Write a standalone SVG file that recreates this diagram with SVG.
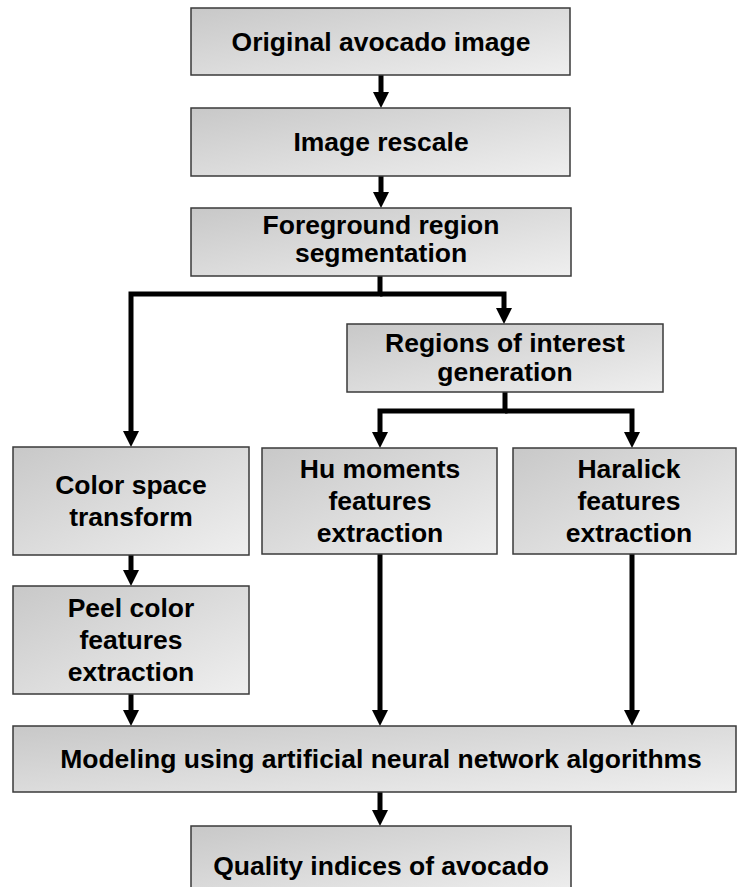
<svg xmlns="http://www.w3.org/2000/svg" width="737" height="887" viewBox="0 0 737 887">
  <defs>
    <linearGradient id="boxFill" x1="0" y1="0" x2="1" y2="1">
      <stop offset="0" stop-color="#c8c8c8"/>
      <stop offset="1" stop-color="#efefef"/>
    </linearGradient>
    <marker id="arrow" markerUnits="userSpaceOnUse" markerWidth="16" markerHeight="16" refX="0" refY="8" orient="auto">
      <path d="M0,0 L16,8 L0,16 Z" fill="#000"/>
    </marker>
    <style>
      .box { fill: url(#boxFill); stroke: #3a3a3a; stroke-width: 1.5; }
      .lbl { font-family: "Liberation Sans", Arial, sans-serif; font-weight: bold; font-size: 25px; fill: #000; text-anchor: middle; }
      .wire { fill: none; stroke: #000; stroke-width: 5; stroke-linejoin: miter; }
      .wire.a { marker-end: url(#arrow); }
    </style>
  </defs>
  <rect width="737" height="887" fill="#fff"/>

  <g id="connectors">
    <path class="wire a" d="M381,75 V92"/>
    <path class="wire a" d="M381,176 V192"/>
    <path class="wire a" d="M380,276 V294 H131 V431"/>
    <path class="wire a" d="M380,294 H504 V308"/>
    <path class="wire a" d="M505,392 V411 H380 V432"/>
    <path class="wire a" d="M505,411 H632 V432"/>
    <path class="wire a" d="M131,555 V570"/>
    <path class="wire a" d="M131,694 V710"/>
    <path class="wire a" d="M380,554 V710"/>
    <path class="wire a" d="M632,554 V710"/>
    <path class="wire a" d="M380,792 V810"/>
  </g>

  <g id="original-image">
    <rect class="box" x="191" y="8" width="379" height="67"/>
    <text class="lbl" transform="translate(381,0) scale(1.06,1)" x="0" y="51">Original avocado image</text>
  </g>

  <g id="image-rescale">
    <rect class="box" x="191" y="108" width="379" height="68"/>
    <text class="lbl" transform="translate(381,0) scale(1.06,1)" x="0" y="151">Image rescale</text>
  </g>

  <g id="foreground-segmentation">
    <rect class="box" x="191" y="208" width="380" height="68"/>
    <text class="lbl" transform="translate(381,0) scale(1.06,1)" x="0" y="234">Foreground region</text>
    <text class="lbl" transform="translate(381,0) scale(1.06,1)" x="0" y="262">segmentation</text>
  </g>

  <g id="roi-generation">
    <rect class="box" x="347" y="324" width="316" height="68"/>
    <text class="lbl" transform="translate(505,0) scale(1.06,1)" x="0" y="352">Regions of interest</text>
    <text class="lbl" transform="translate(505,0) scale(1.06,1)" x="0" y="381">generation</text>
  </g>

  <g id="color-space">
    <rect class="box" x="13" y="447" width="236" height="108"/>
    <text class="lbl" transform="translate(131,0) scale(1.06,1)" x="0" y="494">Color space</text>
    <text class="lbl" transform="translate(131,0) scale(1.06,1)" x="0" y="526">transform</text>
  </g>

  <g id="hu-moments">
    <rect class="box" x="262" y="448" width="235" height="106"/>
    <text class="lbl" transform="translate(380,0) scale(1.06,1)" x="0" y="478">Hu moments</text>
    <text class="lbl" transform="translate(380,0) scale(1.06,1)" x="0" y="510">features</text>
    <text class="lbl" transform="translate(380,0) scale(1.06,1)" x="0" y="542">extraction</text>
  </g>

  <g id="haralick">
    <rect class="box" x="513" y="448" width="223" height="106"/>
    <text class="lbl" transform="translate(629,0) scale(1.06,1)" x="0" y="478">Haralick</text>
    <text class="lbl" transform="translate(629,0) scale(1.06,1)" x="0" y="510">features</text>
    <text class="lbl" transform="translate(629,0) scale(1.06,1)" x="0" y="542">extraction</text>
  </g>

  <g id="peel-color">
    <rect class="box" x="13" y="586" width="236" height="108"/>
    <text class="lbl" transform="translate(131,0) scale(1.06,1)" x="0" y="617">Peel color</text>
    <text class="lbl" transform="translate(131,0) scale(1.06,1)" x="0" y="649">features</text>
    <text class="lbl" transform="translate(131,0) scale(1.06,1)" x="0" y="681">extraction</text>
  </g>

  <g id="ann-modeling">
    <rect class="box" x="13" y="726" width="723" height="66"/>
    <text class="lbl" transform="translate(381,0) scale(1.06,1)" x="0" y="768">Modeling using artificial neural network algorithms</text>
  </g>

  <g id="quality-indices">
    <rect class="box" x="191" y="826" width="380" height="70"/>
    <text class="lbl" transform="translate(381,0) scale(1.06,1)" x="0" y="875">Quality indices of avocado</text>
  </g>
</svg>
